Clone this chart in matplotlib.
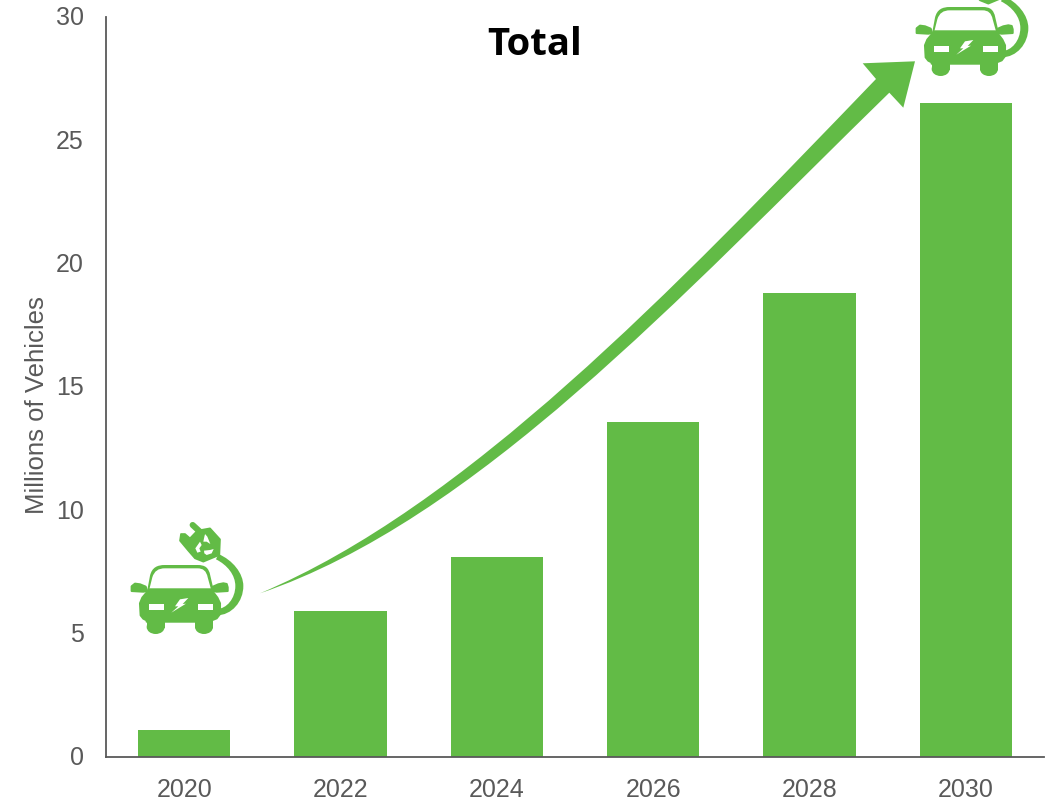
from matplotlib import pyplot as plt
from matplotlib.path import Path
from matplotlib.patches import PathPatch, Polygon, Rectangle, Ellipse
from matplotlib.transforms import Affine2D, ScaledTranslation

years = ["2020", "2022", "2024", "2026", "2028", "2030"]
vehicles = [1.1, 5.9, 8.1, 13.6, 18.8, 26.5]
y_ticks = [0, 5, 10, 15, 20, 25, 30]

green = "#62BB46"
grey = "#595959"

plt.rcParams["font.family"] = ["Liberation Sans", "DejaVu Sans"]

W, H = 1051, 802
fig = plt.figure(figsize=(W / 100, H / 100), dpi=100)
ax = fig.add_axes([106 / W, 1 - 757 / H, 938 / W, 740 / H])

ax.bar(range(len(years)), vehicles, width=0.59, color=green)
ax.set_xlim(-0.5, 5.5)
ax.set_ylim(0, 30)
ax.set_xticks(range(len(years)), years)
ax.set_yticks(y_ticks)
ax.tick_params(axis="both", labelsize=18, labelcolor=grey, color=grey, width=1.2)
ax.tick_params(axis="x", length=0, pad=15)
ax.tick_params(axis="y", direction="in", length=0, pad=16)
# nudge the y labels up a little
nudge = ScaledTranslation(0, 1.2 / 100, fig.dpi_scale_trans)
for lbl in ax.get_yticklabels():
    lbl.set_transform(lbl.get_transform() + nudge)
ax.spines[["top", "right"]].set_visible(False)
ax.spines[["left", "bottom"]].set_color(grey)
ax.spines[["left", "bottom"]].set_linewidth(1.3)
ax.set_ylabel("Millions of Vehicles", fontsize=18.5, color=grey)
ax.yaxis.set_label_coords((49 - 106) / 938, (757 - 405) / 740)

# overlay in pixel units for the title, growth arrow and car icons
top = fig.add_axes([0, 0, 1, 1])
top.set_xlim(0, W)
top.set_ylim(H, 0)
top.axis("off")
top.patch.set_alpha(0)

top.text(535, 45, "Total", fontsize=27.5, fontweight="bold", family="Open Sans",
         ha="center", va="center", color="black")

# tapered curved arrow
arrow_verts = [
    (260, 593.3),
    (465, 507), (671, 292), (876, 79),
    (862.7, 63.3), (915, 61.3), (903.3, 107.7), (889.3, 92.7),
    (679, 298), (475, 520), (260, 593.3),
]
arrow_codes = [Path.MOVETO] + [Path.CURVE4] * 3 + [Path.LINETO] * 4 + [Path.CURVE4] * 3
top.add_patch(PathPatch(Path(arrow_verts, arrow_codes), fc=green, ec="none"))


def draw_car(dx, dy):
    # shapes are in thirds of a pixel, placed with a scale and a shift
    tr = Affine2D().scale(1 / 3).translate(110 + dx, 510 + dy) + top.transData

    def poly(points, color=green, lw=0.8):
        top.add_patch(Polygon(points, closed=True, fc=color, ec=color, lw=lw,
                              joinstyle="round", transform=tr))

    def curved(points, codes, color=green):
        top.add_patch(PathPatch(Path(points, codes), fc=color, ec="none", transform=tr))

    # cable
    cable = [
        (325, 132), (368, 150), (400, 190), (400, 228),
        (400, 275), (365, 316), (320, 316),
        (320, 297), (350, 297), (376, 265), (376, 228),
        (376, 195), (352, 165), (318, 148), (325, 132),
    ]
    cable_codes = [Path.MOVETO] + [Path.CURVE4] * 6 + [Path.LINETO] + [Path.CURVE4] * 6 + [Path.CLOSEPOLY]
    curved(cable, cable_codes)

    # roof and windscreen
    roof_codes = [Path.MOVETO, Path.LINETO] + [Path.CURVE4] * 3 + [Path.LINETO] + [Path.CURVE4] * 3 + [Path.LINETO, Path.CLOSEPOLY]
    curved([(112, 240), (120, 197), (126, 172), (142, 165), (165, 165), (262, 165),
            (285, 165), (296, 172), (301, 197), (311, 240), (112, 240)], roof_codes)
    curved([(118, 238), (127, 202), (133, 183), (145, 175), (165, 175), (262, 175),
            (280, 175), (289, 183), (293, 202), (303, 238), (118, 238)], roof_codes, color="white")

    # mirrors
    poly([(65, 243), (65, 229), (75, 221), (90, 223), (107, 230), (111, 243), (100, 245)], lw=1.5)
    poly([(309, 230), (325, 223), (340, 220), (350, 222), (353, 232), (353, 243), (320, 245), (309, 243)], lw=1.5)

    # body and wheels
    poly([(118, 238), (303, 238), (322, 263), (330, 280), (330, 312), (320, 325),
          (305, 331), (305, 335), (110, 335), (110, 331), (100, 326), (92, 316),
          (90, 280), (97, 263)], lw=1.5)
    for x0 in (110, 255):
        top.add_patch(Rectangle((x0, 325), 54, 28, fc=green, ec="none", transform=tr))
        top.add_patch(Ellipse((x0 + 27, 351), 54, 42, fc=green, ec="none", transform=tr))

    # headlights and bolt
    poly([(118, 283), (163, 283), (163, 300), (118, 300)], color="white", lw=0)
    poly([(264, 283), (310, 283), (310, 300), (264, 300)], color="white", lw=0)
    poly([(210, 268), (235, 264), (218, 282), (228, 281), (184, 308), (205, 289),
          (195, 289)], color="white", lw=0)

    # plug with prongs
    top.plot([248, 275], [45, 70], color=green, lw=4.4, solid_capstyle="round", transform=tr)
    poly([(213, 72), (225, 72), (240, 85), (262, 62), (300, 55), (330, 88), (328, 135),
          (280, 155), (255, 145), (235, 122), (210, 92)], lw=1.2)
    poly([(285, 72), (292, 80), (301, 102), (290, 95), (280, 95), (282, 85)], color="white", lw=0)
    poly([(270, 95), (275, 105), (268, 115), (272, 125), (262, 128), (256, 115)], color="white", lw=0)
    poly([(282, 122), (300, 120), (311, 117), (305, 130), (290, 135), (283, 130)], color="white", lw=0)


draw_car(0, 0)
draw_car(785, -558)

plt.savefig("out.png", dpi=100)
